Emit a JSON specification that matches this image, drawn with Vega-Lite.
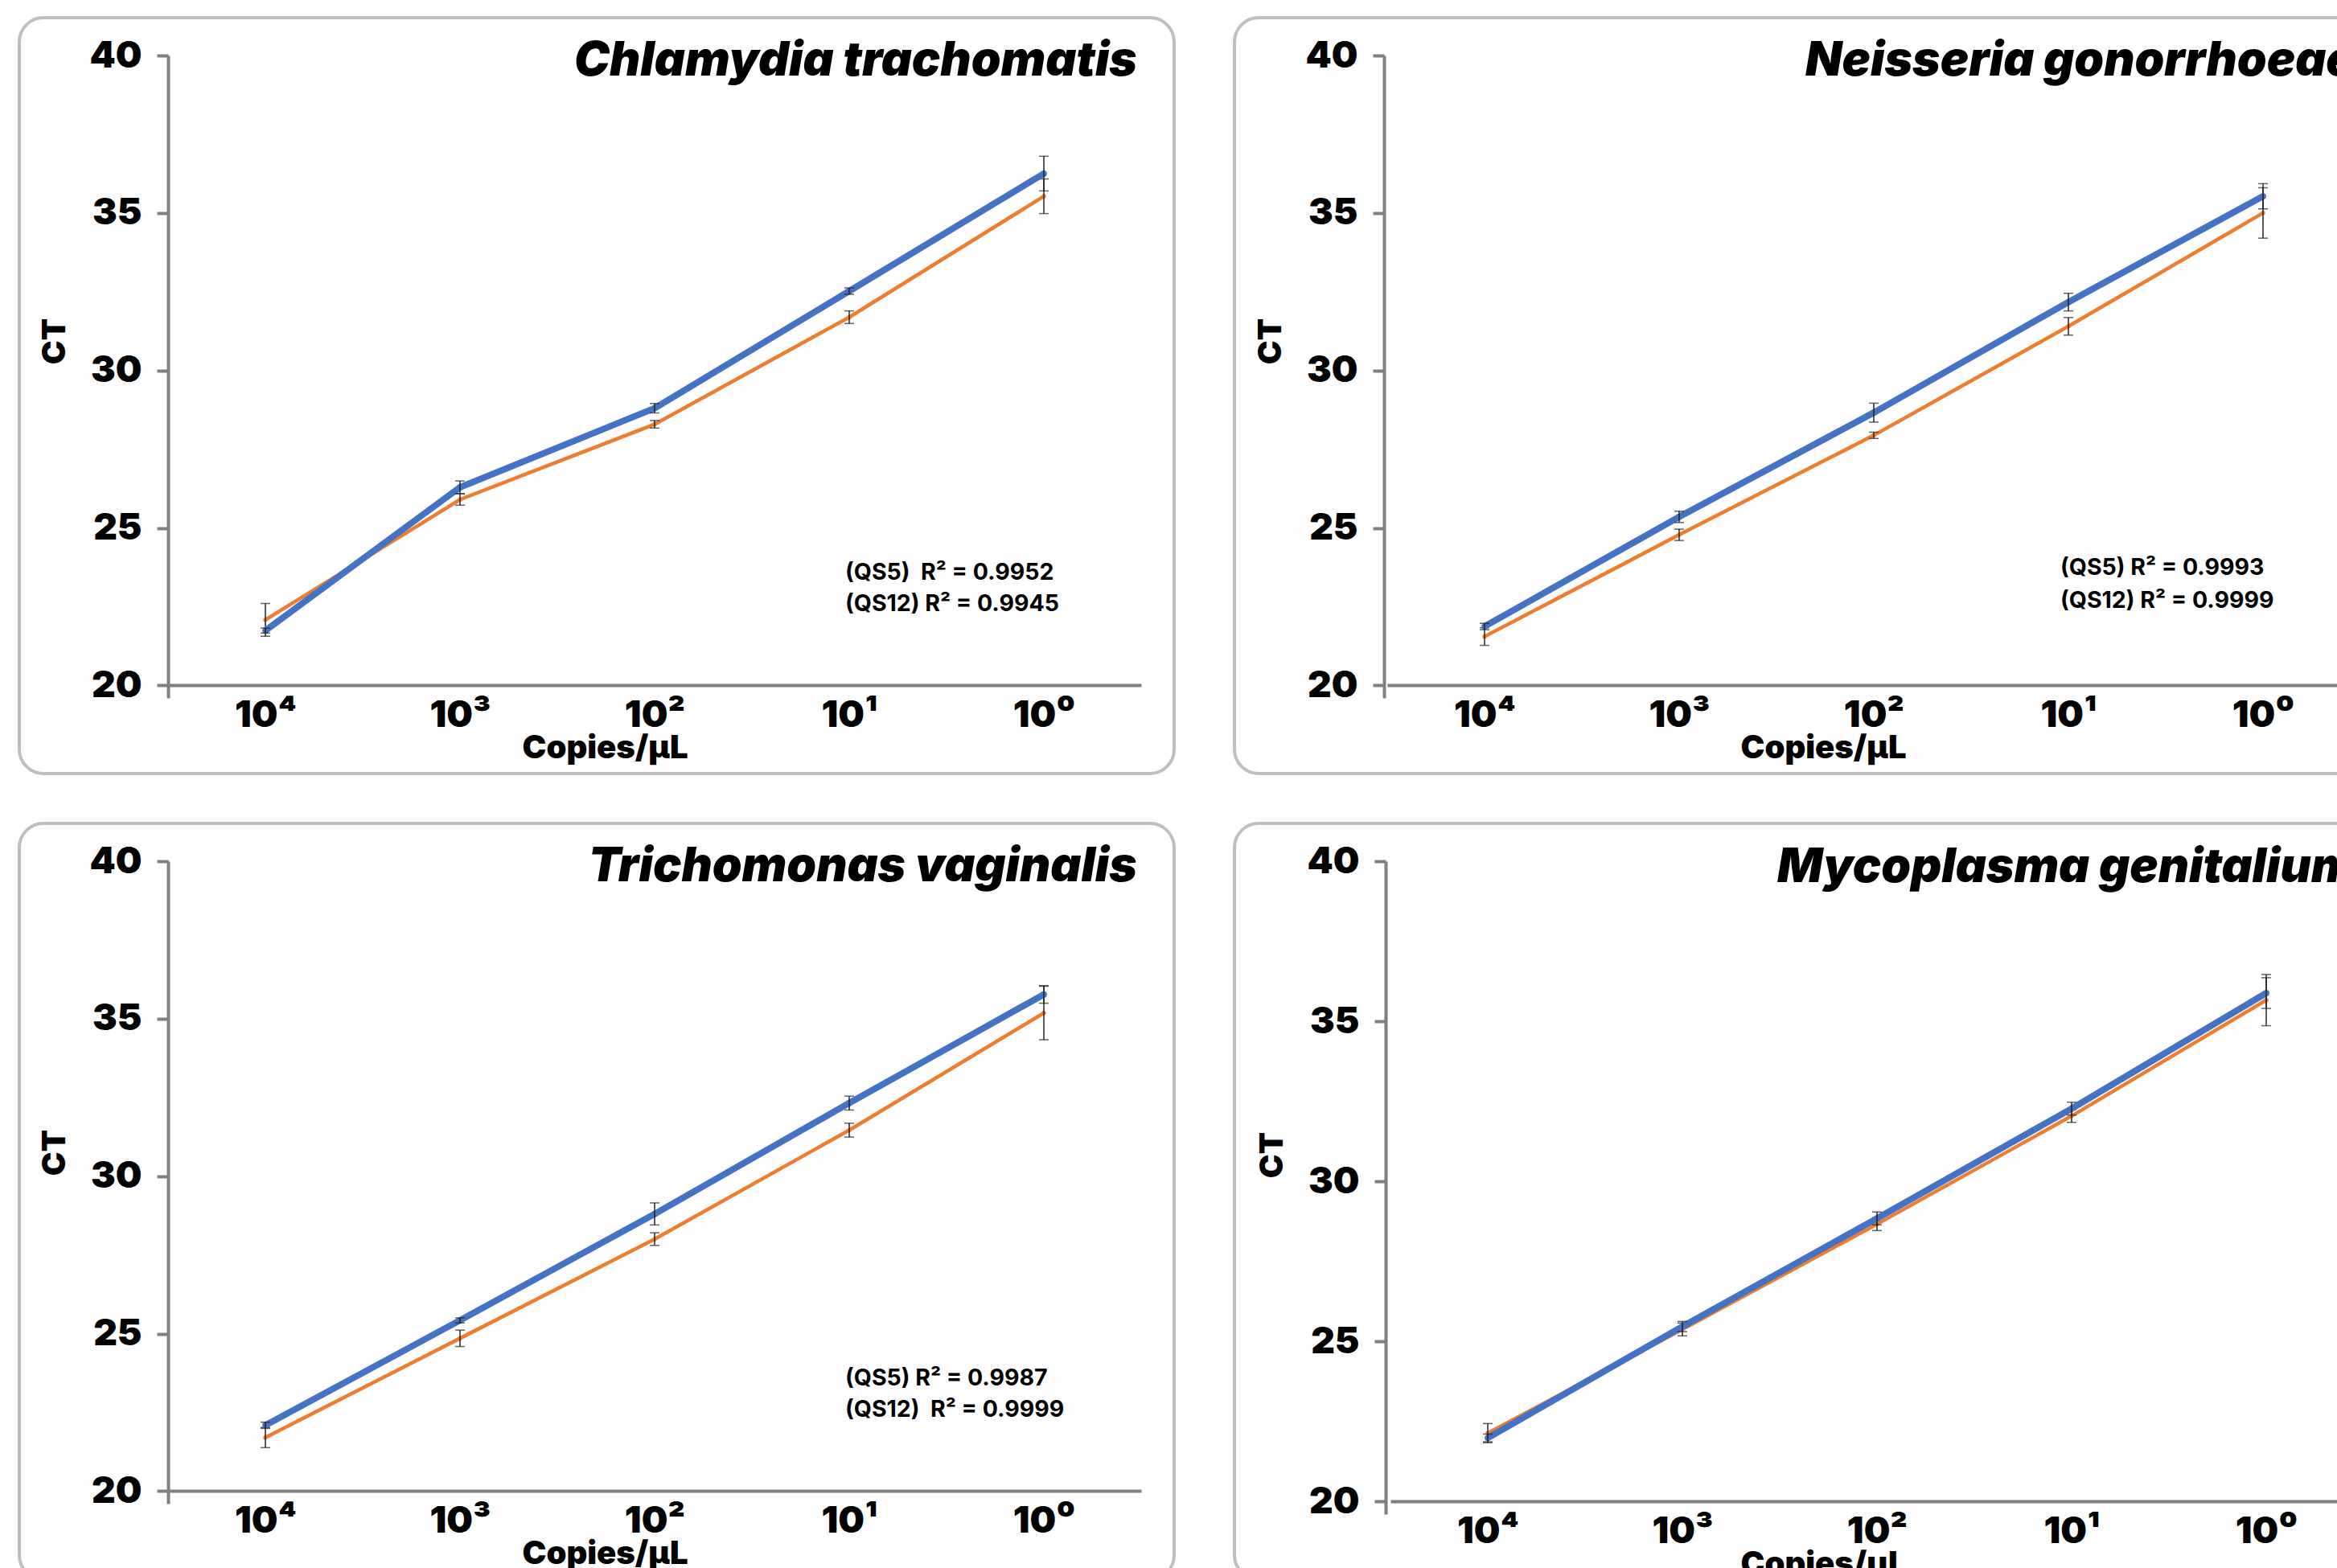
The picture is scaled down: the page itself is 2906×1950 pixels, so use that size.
{
  "$schema": "https://vega.github.io/schema/vega-lite/v6.json",
  "background": "white",
  "padding": {"left": 22, "top": 20, "right": 0, "bottom": 0},
  "datasets": {
    "d": [
      {"panel": "CT", "series": "QS5", "conc": "10⁴", "ct": 21.74, "lo": 21.66, "hi": 21.82},
      {"panel": "CT", "series": "QS5", "conc": "10³", "ct": 26.29, "lo": 26.09, "hi": 26.49},
      {"panel": "CT", "series": "QS5", "conc": "10²", "ct": 28.8, "lo": 28.65, "hi": 28.95},
      {"panel": "CT", "series": "QS5", "conc": "10¹", "ct": 32.52, "lo": 32.42, "hi": 32.62},
      {"panel": "CT", "series": "QS5", "conc": "10⁰", "ct": 36.25, "lo": 35.7, "hi": 36.8},
      {"panel": "CT", "series": "QS12", "conc": "10⁴", "ct": 22.08, "lo": 21.56, "hi": 22.6},
      {"panel": "CT", "series": "QS12", "conc": "10³", "ct": 25.9, "lo": 25.72, "hi": 26.08},
      {"panel": "CT", "series": "QS12", "conc": "10²", "ct": 28.29, "lo": 28.17, "hi": 28.41},
      {"panel": "CT", "series": "QS12", "conc": "10¹", "ct": 31.69, "lo": 31.49, "hi": 31.89},
      {"panel": "CT", "series": "QS12", "conc": "10⁰", "ct": 35.53, "lo": 34.98, "hi": 36.08},
      {"panel": "NG", "series": "QS5", "conc": "10⁴", "ct": 21.87, "lo": 21.77, "hi": 21.97},
      {"panel": "NG", "series": "QS5", "conc": "10³", "ct": 25.35, "lo": 25.17, "hi": 25.53},
      {"panel": "NG", "series": "QS5", "conc": "10²", "ct": 28.66, "lo": 28.36, "hi": 28.96},
      {"panel": "NG", "series": "QS5", "conc": "10¹", "ct": 32.17, "lo": 31.89, "hi": 32.45},
      {"panel": "NG", "series": "QS5", "conc": "10⁰", "ct": 35.53, "lo": 35.13, "hi": 35.93},
      {"panel": "NG", "series": "QS12", "conc": "10⁴", "ct": 21.55, "lo": 21.27, "hi": 21.83},
      {"panel": "NG", "series": "QS12", "conc": "10³", "ct": 24.78, "lo": 24.6, "hi": 24.96},
      {"panel": "NG", "series": "QS12", "conc": "10²", "ct": 27.94, "lo": 27.84, "hi": 28.04},
      {"panel": "NG", "series": "QS12", "conc": "10¹", "ct": 31.4, "lo": 31.12, "hi": 31.68},
      {"panel": "NG", "series": "QS12", "conc": "10⁰", "ct": 35.0, "lo": 34.2, "hi": 35.8},
      {"panel": "TV", "series": "QS5", "conc": "10⁴", "ct": 22.09, "lo": 21.99, "hi": 22.19},
      {"panel": "TV", "series": "QS5", "conc": "10³", "ct": 25.42, "lo": 25.34, "hi": 25.5},
      {"panel": "TV", "series": "QS5", "conc": "10²", "ct": 28.8, "lo": 28.45, "hi": 29.15},
      {"panel": "TV", "series": "QS5", "conc": "10¹", "ct": 32.32, "lo": 32.1, "hi": 32.54},
      {"panel": "TV", "series": "QS5", "conc": "10⁰", "ct": 35.77, "lo": 35.49, "hi": 36.05},
      {"panel": "TV", "series": "QS12", "conc": "10⁴", "ct": 21.7, "lo": 21.38, "hi": 22.02},
      {"panel": "TV", "series": "QS12", "conc": "10³", "ct": 24.85, "lo": 24.59, "hi": 25.11},
      {"panel": "TV", "series": "QS12", "conc": "10²", "ct": 28.0, "lo": 27.8, "hi": 28.2},
      {"panel": "TV", "series": "QS12", "conc": "10¹", "ct": 31.46, "lo": 31.24, "hi": 31.68},
      {"panel": "TV", "series": "QS12", "conc": "10⁰", "ct": 35.18, "lo": 34.33, "hi": 36.03},
      {"panel": "MG", "series": "QS5", "conc": "10⁴", "ct": 21.98, "lo": 21.86, "hi": 22.1},
      {"panel": "MG", "series": "QS5", "conc": "10³", "ct": 25.46, "lo": 25.3, "hi": 25.62},
      {"panel": "MG", "series": "QS5", "conc": "10²", "ct": 28.84, "lo": 28.64, "hi": 29.04},
      {"panel": "MG", "series": "QS5", "conc": "10¹", "ct": 32.27, "lo": 32.07, "hi": 32.47},
      {"panel": "MG", "series": "QS5", "conc": "10⁰", "ct": 35.88, "lo": 35.4, "hi": 36.36},
      {"panel": "MG", "series": "QS12", "conc": "10⁴", "ct": 22.13, "lo": 21.83, "hi": 22.43},
      {"panel": "MG", "series": "QS12", "conc": "10³", "ct": 25.37, "lo": 25.17, "hi": 25.57},
      {"panel": "MG", "series": "QS12", "conc": "10²", "ct": 28.66, "lo": 28.46, "hi": 28.86},
      {"panel": "MG", "series": "QS12", "conc": "10¹", "ct": 32.04, "lo": 31.84, "hi": 32.24},
      {"panel": "MG", "series": "QS12", "conc": "10⁰", "ct": 35.66, "lo": 34.86, "hi": 36.46},
      {"panel": "CT", "series": "note", "conc": "10¹", "ct": 23.58, "label": "(QS5)\u00a0\u00a0R² = 0.9952"},
      {"panel": "CT", "series": "note", "conc": "10¹", "ct": 22.6, "label": "(QS12) R² = 0.9945"},
      {"panel": "NG", "series": "note", "conc": "10¹", "ct": 23.73, "label": "(QS5) R² = 0.9993"},
      {"panel": "NG", "series": "note", "conc": "10¹", "ct": 22.68, "label": "\u00a0\u00a0(QS12) R² = 0.9999"},
      {"panel": "TV", "series": "note", "conc": "10¹", "ct": 23.58, "label": "(QS5) R² = 0.9987"},
      {"panel": "TV", "series": "note", "conc": "10¹", "ct": 22.58, "label": "(QS12)\u00a0\u00a0R² = 0.9999"}
    ]
  },
  "data": {"name": "d"},
  "columns": 2,
  "spacing": {"row": 58, "column": 71},
  "concat": [
    {
      "width": 1436, "height": 940,
      "title": {"text": "Chlamydia trachomatis", "anchor": "end", "frame": "group", "offset": -84, "dx": -46},
      "transform": [{"filter": "datum.panel == 'CT'"}],
      "encoding": {
        "x": {"field": "conc", "type": "ordinal", "sort": ["10⁴", "10³", "10²", "10¹", "10⁰"], "scale": {"type": "point", "padding": 0.5, "range": [185, 1395]}, "axis": {"title": "Copies/µL", "offset": -110, "titleX": 728, "titleY": 78}},
        "y": {"field": "ct", "type": "quantitative", "scale": {"domain": [19.6, 40], "range": [846, 47], "zero": false, "nice": false}, "axis": {"title": "CT", "values": [20, 25, 30, 35, 40], "offset": -185, "titleX": -141, "titleY": 402}}
      },
      "layer": [
        {"transform": [{"filter": "datum.series == 'QS12'"}], "mark": {"type": "line", "color": "#ED7D31", "strokeWidth": 4.5, "point": {"filled": true, "size": 30, "color": "#ED7D31"}}},
        {"transform": [{"filter": "datum.series == 'QS12'"}], "mark": {"type": "errorbar", "ticks": {"size": 12, "color": "#222222"}, "rule": {"color": "#222222"}, "thickness": 1.5}, "encoding": {"y": {"field": "lo", "type": "quantitative"}, "y2": {"field": "hi"}}},
        {"transform": [{"filter": "datum.series == 'QS5'"}], "mark": {"type": "line", "color": "#4472C4", "strokeWidth": 8, "point": {"filled": true, "size": 60, "color": "#4472C4"}}},
        {"transform": [{"filter": "datum.series == 'QS5'"}], "mark": {"type": "errorbar", "ticks": {"size": 12, "color": "#222222"}, "rule": {"color": "#222222"}, "thickness": 1.5}, "encoding": {"y": {"field": "lo", "type": "quantitative"}, "y2": {"field": "hi"}}},
        {"transform": [{"filter": "datum.series == 'note'"}], "mark": {"type": "text", "align": "left", "baseline": "middle", "dx": -5, "font": "Inter", "fontSize": 28.5, "fontWeight": 700, "color": "#000000"}, "encoding": {"text": {"field": "label"}}}
      ]
    },
    {
      "width": 1436, "height": 940,
      "title": {"text": "Neisseria gonorrhoeae", "anchor": "start", "frame": "group", "offset": -84, "dx": 710},
      "transform": [{"filter": "datum.panel == 'NG'"}],
      "encoding": {
        "x": {"field": "conc", "type": "ordinal", "sort": ["10⁴", "10³", "10²", "10¹", "10⁰"], "scale": {"type": "point", "padding": 0.5, "range": [190, 1400]}, "axis": {"title": "Copies/µL", "offset": -110, "titleX": 732, "titleY": 78}},
        "y": {"field": "ct", "type": "quantitative", "scale": {"domain": [19.6, 40], "range": [846, 47], "zero": false, "nice": false}, "axis": {"title": "CT", "values": [20, 25, 30, 35, 40], "offset": -186, "titleX": -141, "titleY": 402}}
      },
      "layer": [
        {"transform": [{"filter": "datum.series == 'QS12'"}], "mark": {"type": "line", "color": "#ED7D31", "strokeWidth": 4.5, "point": {"filled": true, "size": 30, "color": "#ED7D31"}}},
        {"transform": [{"filter": "datum.series == 'QS12'"}], "mark": {"type": "errorbar", "ticks": {"size": 12, "color": "#222222"}, "rule": {"color": "#222222"}, "thickness": 1.5}, "encoding": {"y": {"field": "lo", "type": "quantitative"}, "y2": {"field": "hi"}}},
        {"transform": [{"filter": "datum.series == 'QS5'"}], "mark": {"type": "line", "color": "#4472C4", "strokeWidth": 8, "point": {"filled": true, "size": 60, "color": "#4472C4"}}},
        {"transform": [{"filter": "datum.series == 'QS5'"}], "mark": {"type": "errorbar", "ticks": {"size": 12, "color": "#222222"}, "rule": {"color": "#222222"}, "thickness": 1.5}, "encoding": {"y": {"field": "lo", "type": "quantitative"}, "y2": {"field": "hi"}}},
        {"transform": [{"filter": "datum.series == 'note'"}], "mark": {"type": "text", "align": "left", "baseline": "middle", "dx": -10, "font": "Inter", "fontSize": 28.5, "fontWeight": 700, "color": "#000000"}, "encoding": {"text": {"field": "label"}}}
      ]
    },
    {
      "width": 1436, "height": 940,
      "title": {"text": "Trichomonas vaginalis", "anchor": "end", "frame": "group", "offset": -84, "dx": -46},
      "transform": [{"filter": "datum.panel == 'TV'"}],
      "encoding": {
        "x": {"field": "conc", "type": "ordinal", "sort": ["10⁴", "10³", "10²", "10¹", "10⁰"], "scale": {"type": "point", "padding": 0.5, "range": [185, 1395]}, "axis": {"title": "Copies/µL", "offset": -110, "titleX": 728, "titleY": 78}},
        "y": {"field": "ct", "type": "quantitative", "scale": {"domain": [19.6, 40], "range": [846, 47], "zero": false, "nice": false}, "axis": {"title": "CT", "values": [20, 25, 30, 35, 40], "offset": -185, "titleX": -141, "titleY": 409}}
      },
      "layer": [
        {"transform": [{"filter": "datum.series == 'QS12'"}], "mark": {"type": "line", "color": "#ED7D31", "strokeWidth": 4.5, "point": {"filled": true, "size": 30, "color": "#ED7D31"}}},
        {"transform": [{"filter": "datum.series == 'QS12'"}], "mark": {"type": "errorbar", "ticks": {"size": 12, "color": "#222222"}, "rule": {"color": "#222222"}, "thickness": 1.5}, "encoding": {"y": {"field": "lo", "type": "quantitative"}, "y2": {"field": "hi"}}},
        {"transform": [{"filter": "datum.series == 'QS5'"}], "mark": {"type": "line", "color": "#4472C4", "strokeWidth": 8, "point": {"filled": true, "size": 60, "color": "#4472C4"}}},
        {"transform": [{"filter": "datum.series == 'QS5'"}], "mark": {"type": "errorbar", "ticks": {"size": 12, "color": "#222222"}, "rule": {"color": "#222222"}, "thickness": 1.5}, "encoding": {"y": {"field": "lo", "type": "quantitative"}, "y2": {"field": "hi"}}},
        {"transform": [{"filter": "datum.series == 'note'"}], "mark": {"type": "text", "align": "left", "baseline": "middle", "dx": -5, "font": "Inter", "fontSize": 28.5, "fontWeight": 700, "color": "#000000"}, "encoding": {"text": {"field": "label"}}}
      ]
    },
    {
      "width": 1436, "height": 940,
      "title": {"text": "Mycoplasma genitalium", "anchor": "start", "frame": "group", "offset": -85, "dx": 675},
      "transform": [{"filter": "datum.panel == 'MG'"}],
      "encoding": {
        "x": {"field": "conc", "type": "ordinal", "sort": ["10⁴", "10³", "10²", "10¹", "10⁰"], "scale": {"type": "point", "padding": 0.5, "range": [194, 1404]}, "axis": {"title": "Copies/µL", "offset": -97, "titleX": 732, "titleY": 78}},
        "y": {"field": "ct", "type": "quantitative", "scale": {"domain": [19.6, 40], "range": [859, 47], "zero": false, "nice": false}, "axis": {"title": "CT", "values": [20, 25, 30, 35, 40], "offset": -188, "titleX": -141, "titleY": 412}}
      },
      "layer": [
        {"transform": [{"filter": "datum.series == 'QS12'"}], "mark": {"type": "line", "color": "#ED7D31", "strokeWidth": 4.5, "point": {"filled": true, "size": 30, "color": "#ED7D31"}}},
        {"transform": [{"filter": "datum.series == 'QS12'"}], "mark": {"type": "errorbar", "ticks": {"size": 12, "color": "#222222"}, "rule": {"color": "#222222"}, "thickness": 1.5}, "encoding": {"y": {"field": "lo", "type": "quantitative"}, "y2": {"field": "hi"}}},
        {"transform": [{"filter": "datum.series == 'QS5'"}], "mark": {"type": "line", "color": "#4472C4", "strokeWidth": 8, "point": {"filled": true, "size": 60, "color": "#4472C4"}}},
        {"transform": [{"filter": "datum.series == 'QS5'"}], "mark": {"type": "errorbar", "ticks": {"size": 12, "color": "#222222"}, "rule": {"color": "#222222"}, "thickness": 1.5}, "encoding": {"y": {"field": "lo", "type": "quantitative"}, "y2": {"field": "hi"}}}
      ]
    }
  ],
  "config": {
    "view": {"stroke": "#BFBFBF", "strokeWidth": 4, "cornerRadius": 30},
    "title": {"font": "Inter", "fontSize": 59, "fontWeight": 900, "fontStyle": "italic", "color": "#000000", "baseline": "alphabetic"},
    "axis": {"domainColor": "#7F7F7F", "domainWidth": 4, "tickColor": "#7F7F7F", "tickWidth": 4, "grid": false, "labelFont": "Inter", "labelFontWeight": 900, "labelColor": "#000000", "labelFontSize": 46, "titleFont": "Inter", "titleFontWeight": 900, "titleColor": "#000000", "titleFontSize": 40, "titleAlign": "center", "titleBaseline": "middle"},
    "axisY": {"tickSize": 14, "labelPadding": 19},
    "axisX": {"ticks": false, "tickSize": 0, "labelPadding": 51, "labelBaseline": "alphabetic", "labelAngle": 0}
  }
}
